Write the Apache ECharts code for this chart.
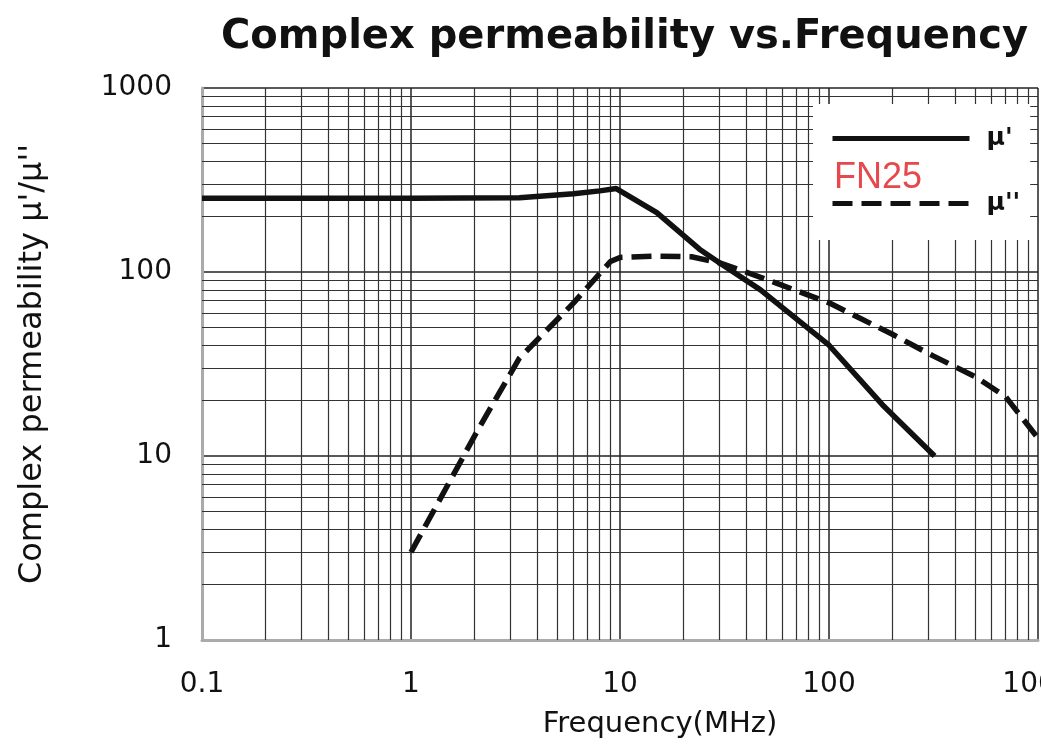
<!DOCTYPE html>
<html>
<head>
<meta charset="utf-8">
<script src="https://cdn.jsdelivr.net/npm/echarts@6/dist/echarts.min.js"></script>
<style>
html,body{margin:0;padding:0;background:#fff;}
#chart{width:1041px;height:755px;}
</style>
</head>
<body>
<div id="chart"></div>
<script>
// ---- data ----
var muPrimeFreq = [0.1, 1, 3.3, 6, 8, 9.6, 15, 24, 30, 47, 100, 180, 320];
var muPrimeVal  = [252, 252, 253, 266, 276, 284, 210, 133, 112, 80, 40, 19, 10];
var muDoubleFreq = [1, 2.1, 3.3, 6, 9, 10, 15, 22, 30, 40, 56, 100, 200, 315, 500, 700, 1000];
var muDoubleVal  = [3, 14, 34, 68, 114, 120, 122, 121, 112, 100, 87, 68, 46, 35, 27, 21, 12.5];
var seriesNames = ["\u03bc'", "\u03bc''"];
var xTickLabels = ["0.1", "1", "10", "100", "1000"];
var yTickLabels = ["1", "10", "100", "1000"];
var xMinorGrid = [0.2,0.3,0.4,0.5,0.6,0.7,0.8,0.9, 2,3,4,5,6,7,8,9, 20,30,40,50,60,70,80,90, 200,300,400,500,600,700,800,900];
var yMinorGrid = [2,3,4,5,6,7,8,9, 20,30,40,50,60,70,80,90, 200,300,400,500,600,700,800,900];
var materialLabel = "FN25";

function pairs(xs, ys){ return xs.map(function(x,i){ return [x, ys[i]]; }); }

var gridMarks = xMinorGrid.map(function(v){ return {xAxis: v}; })
  .concat(yMinorGrid.map(function(v){ return {yAxis: v}; }));

var font = "DejaVu Sans";
var chart = echarts.init(document.getElementById('chart'), null, {renderer:'canvas'});
chart.setOption({
  animation: false,
  backgroundColor: '#fff',
  title: [{
    text: 'Complex permeability vs.Frequency',
    left: 216, top: 13,
    textStyle: {fontFamily: font, fontWeight: 'bold', fontSize: 40, color: '#111'}
  }, {
    text: materialLabel,
    left: 834, top: 160, padding: 0,
    textStyle: {fontFamily: 'Liberation Sans', fontWeight: 'normal', fontSize: 36, color: '#e5484d'},
    z: 10
  }],
  legend: {
    orient: 'vertical',
    left: 813, top: 104,
    padding: [22, 10, 24, 17],
    itemGap: 40,
    itemWidth: 137, itemHeight: 14,
    backgroundColor: '#fff',
    itemStyle: {color: 'rgba(0,0,0,0)', borderWidth: 0, opacity: 0},
    lineStyle: {width: 5},
    textStyle: {fontFamily: font, fontSize: 25, fontWeight: 'bold', color: '#111', padding: [0,0,0,12]},
    data: seriesNames,
    selectedMode: false
  },
  grid: {left: 202, right: 3, top: 88, bottom: 115, containLabel: false, outerBoundsMode: 'none'},
  xAxis: {
    type: 'log', min: 0.1, max: 1000, logBase: 10,
    name: 'Frequency(MHz)', nameLocation: 'middle', nameGap: 70,
    nameTextStyle: {fontFamily: font, fontSize: 29, color: '#111', padding: [0,0,0,80]},
    axisLine: {show: true, lineStyle: {color: '#aaa', width: 3}},
    axisTick: {show: false},
    axisLabel: {margin: 31, fontFamily: font, fontSize: 28, color: '#111',
      formatter: function(v){ var i = Math.round(Math.log10(v)) + 1; return xTickLabels[i] !== undefined ? xTickLabels[i] : ''; }},
    splitLine: {show: true, lineStyle: {color: '#222', width: 1.5}}
  },
  yAxis: {
    type: 'log', min: 1, max: 1000, logBase: 10,
    name: "Complex permeability \u03bc'/\u03bc''", nameLocation: 'middle', nameGap: 153,
    nameTextStyle: {fontFamily: font, fontSize: 32, color: '#111'},
    axisLine: {show: true, lineStyle: {color: '#aaa', width: 3}},
    axisTick: {show: false},
    axisLabel: {margin: 30, fontFamily: font, fontSize: 28, color: '#111',
      formatter: function(v){ var i = Math.round(Math.log10(v)); return yTickLabels[i] !== undefined ? yTickLabels[i] : ''; }},
    splitLine: {show: true, lineStyle: {color: '#222', width: 1.5}}
  },
  series: [{
    name: seriesNames[0], type: 'line', data: pairs(muPrimeFreq, muPrimeVal),
    showSymbol: false, symbol: 'none', smooth: false,
    lineStyle: {color: '#111', width: 5.5},
    itemStyle: {color: '#111'},
    z: 3,
    markLine: {
      silent: true, symbol: ['none','none'], label: {show: false},
      lineStyle: {color: '#333', width: 1.2, type: 'solid'},
      emphasis: {disabled: true},
      data: gridMarks, z: 1
    }
  }, {
    name: seriesNames[1], type: 'line', data: pairs(muDoubleFreq, muDoubleVal),
    showSymbol: false, symbol: 'none', smooth: false,
    lineStyle: {color: '#111', width: 5.5, type: [20, 9]},
    itemStyle: {color: '#111'},
    z: 3
  }]
});
</script>
</body>
</html>
